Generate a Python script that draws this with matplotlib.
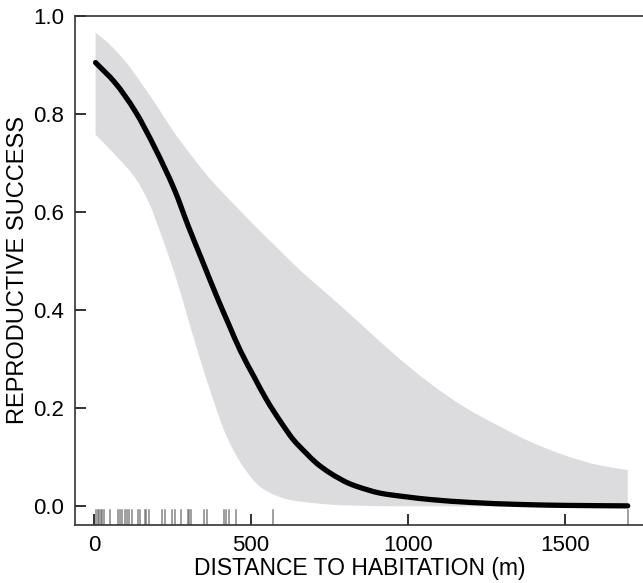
import numpy as np
import matplotlib
matplotlib.use("Agg")
import matplotlib.pyplot as plt
from matplotlib.path import Path
from matplotlib.patches import PathPatch

# fitted curve
x_fit = [5, 67, 131, 194, 258, 300, 348, 391, 430, 465, 510, 550, 595, 635, 675, 709, 752, 815, 870, 911, 1000, 1070, 1200, 1350, 1500, 1700]
y_fit = [0.905, 0.864, 0.806, 0.731, 0.643, 0.572, 0.496, 0.428, 0.370, 0.319, 0.264, 0.217, 0.172, 0.136, 0.109, 0.088, 0.068, 0.046, 0.034, 0.027, 0.019, 0.014, 0.008, 0.004, 0.002, 0.001]

# confidence band
x_hi = [5, 45, 99, 152, 205, 258, 311, 364, 417, 470, 523, 576, 664, 752, 858, 964, 1070, 1176, 1283, 1389, 1495, 1601, 1700]
hi = [0.966, 0.945, 0.908, 0.862, 0.812, 0.760, 0.715, 0.672, 0.635, 0.600, 0.565, 0.532, 0.477, 0.428, 0.367, 0.306, 0.251, 0.204, 0.166, 0.132, 0.105, 0.085, 0.074]
x_lo = [5, 67, 131, 173, 215, 263, 316, 369, 423, 475, 529, 580, 624, 709, 800, 1000, 1700]
lo = [0.758, 0.717, 0.670, 0.622, 0.552, 0.462, 0.347, 0.238, 0.142, 0.081, 0.040, 0.022, 0.013, 0.006, 0.002, 0.0, 0.0]

# rug of observed distances
rug = [7, 12, 17, 22, 27, 33, 51, 76, 83, 90, 98, 105, 112, 122, 140, 146, 161, 167, 175,
       218, 227, 249, 257, 278, 300, 304, 309, 351, 360, 415, 419, 430, 451, 571, 1700]

xticks = [0, 500, 1000, 1500]
yticks = [0.0, 0.2, 0.4, 0.6, 0.8, 1.0]


def smooth_segments(x, y):
    """Cubic Hermite (monotone) path through the read points, as Bezier segments."""
    x = np.asarray(x, float)
    y = np.asarray(y, float)
    h = np.diff(x)
    d = np.diff(y) / h
    m = np.zeros_like(x)
    m[0], m[-1] = d[0], d[-1]
    for i in range(1, len(x) - 1):
        if d[i - 1] * d[i] <= 0:
            m[i] = 0.0
        else:
            w1 = 2 * h[i] + h[i - 1]
            w2 = h[i] + 2 * h[i - 1]
            m[i] = (w1 + w2) / (w1 / d[i - 1] + w2 / d[i])
    verts = [(x[0], y[0])]
    for i in range(len(x) - 1):
        verts += [(x[i] + h[i] / 3, y[i] + m[i] * h[i] / 3),
                  (x[i + 1] - h[i] / 3, y[i + 1] - m[i + 1] * h[i] / 3),
                  (x[i + 1], y[i + 1])]
    return verts


plt.rcParams['font.family'] = ['Liberation Sans', 'DejaVu Sans']

fig = plt.figure(figsize=(6.43, 5.83), dpi=100)
ax = fig.add_axes([75/643, 58/583, 570/643, 509/583])

# band
up = smooth_segments(x_hi, hi)
low = smooth_segments(x_lo, lo)[::-1]
verts = up + low + [up[0]]
codes = ([Path.MOVETO] + [Path.CURVE4] * (len(up) - 1) +
         [Path.LINETO] + [Path.CURVE4] * (len(low) - 1) + [Path.CLOSEPOLY])
ax.add_patch(PathPatch(Path(verts, codes), facecolor='#dcdcdf', edgecolor='none', zorder=1))

# fitted line
fv = smooth_segments(x_fit, y_fit)
fc = [Path.MOVETO] + [Path.CURVE4] * (len(fv) - 1)
ax.add_patch(PathPatch(Path(fv, fc), facecolor='none', edgecolor='black', lw=3.8,
                       capstyle='round', joinstyle='round', zorder=3))

for r in rug:
    ax.axvline(r, ymin=0, ymax=0.03, color='#666666', lw=1.1, alpha=0.8, zorder=2)

ax.set_xlim(-60.5, 1755)
ax.set_ylim(-0.038, 1.0)
ax.set_xticks(xticks)
ax.set_yticks(yticks)
ax.set_yticklabels([f"{v:.1f}" for v in yticks])
ax.tick_params(direction='in', length=8, width=1.3, color='#222222', labelsize=16, pad=7)
ax.tick_params(axis='y', pad=8)

for s in ax.spines.values():
    s.set_color('#333333')
    s.set_linewidth(1.2)

ax.set_xlabel("DISTANCE TO HABITATION (m)", fontsize=16.5, labelpad=1)
ax.set_ylabel("REPRODUCTIVE SUCCESS", fontsize=17, labelpad=3)

fig.savefig("out.png", dpi=100)
